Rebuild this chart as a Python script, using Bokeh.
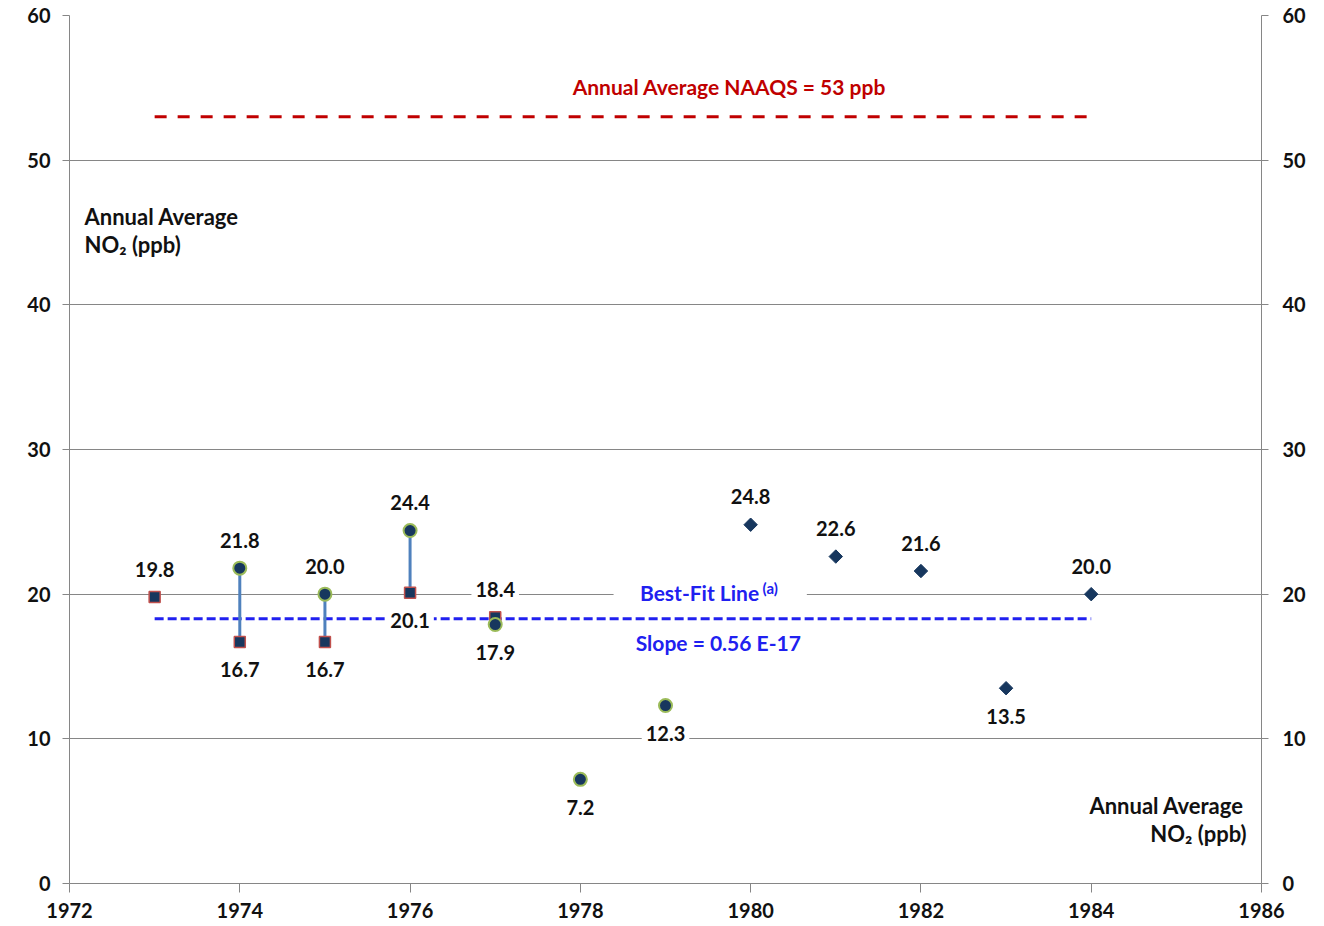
from bokeh.plotting import figure
from bokeh.models import (ColumnDataSource, FixedTicker, LinearAxis, Range1d,
                          Label, BoxAnnotation)
from bokeh.embed import file_html
from bokeh.resources import INLINE
from bokeh.core.properties import value
import math

# ---------------- data ----------------
square_years = [1973, 1974, 1975, 1976, 1977]
square_values = [19.8, 16.7, 16.7, 20.1, 18.4]
square_label_side = ["above", "below", "below", "below", "above"]

circle_years = [1974, 1975, 1976, 1977, 1978, 1979]
circle_values = [21.8, 20.0, 24.4, 17.9, 7.2, 12.3]
circle_label_side = ["above", "above", "above", "below", "below", "below"]

diamond_years = [1980, 1981, 1982, 1983, 1984]
diamond_values = [24.8, 22.6, 21.6, 13.5, 20.0]
diamond_label_side = ["above", "above", "above", "below", "above"]

connector_years = [1974, 1975, 1976]

naaqs_level = 53
best_fit_level = 18.3
line_start_year = 1973
line_end_year = 1984

x_ticks = [1972, 1974, 1976, 1978, 1980, 1982, 1984, 1986]
y_ticks = [0, 10, 20, 30, 40, 50, 60]

# ---------------- style ----------------
FONT = "Lato"
GRAY = "#868686"
NAVY = "#17375E"
TXT = "#111111"
RED = "#C00000"
BLUE = "#2020F0"
LBL_SIZE = "20px"
NOTE_SIZE = "21px"
OFFSET = 28

p = figure(width=1316, height=920,
           x_range=Range1d(1972, 1986), y_range=Range1d(0, 60),
           output_backend="svg", toolbar_location=None,
           min_border_left=69, min_border_right=55,
           min_border_top=15, min_border_bottom=37)
p.outline_line_color = None
p.background_fill_color = "white"
p.border_fill_color = "white"

p.xgrid.grid_line_color = None
p.ygrid.grid_line_color = GRAY
p.ygrid.grid_line_width = 1

right_axis = LinearAxis()
p.add_layout(right_axis, "right")

for ax in [p.xaxis[0], p.yaxis[0], right_axis]:
    ax.axis_line_color = GRAY
    ax.axis_line_width = 1
    ax.major_tick_line_color = GRAY
    ax.major_tick_in = 0
    ax.minor_tick_line_color = None
    ax.major_label_text_font = FONT
    ax.major_label_text_font_style = "bold"
    ax.major_label_text_font_size = LBL_SIZE
    ax.major_label_text_color = TXT

p.xaxis[0].ticker = FixedTicker(ticks=x_ticks)
p.xaxis[0].major_tick_out = 9
p.xaxis[0].major_label_standoff = 10
p.yaxis[0].ticker = FixedTicker(ticks=y_ticks)
p.yaxis[0].major_tick_out = 7
p.yaxis[0].major_label_standoff = 12
right_axis.ticker = FixedTicker(ticks=y_ticks)
right_axis.major_tick_out = 7
right_axis.major_label_standoff = 14

# reference lines
p.line([line_start_year, line_end_year], [naaqs_level, naaqs_level],
       line_color=RED, line_width=3, line_dash="12 11")

# gap in the 20 gridline behind "Best-Fit Line" text
p.add_layout(BoxAnnotation(left=1978.39, right=1980.66, bottom=19.4, top=20.8,
                           fill_color="white", fill_alpha=1, line_color=None,
                           level="underlay"))

p.line([line_start_year, line_end_year], [best_fit_level, best_fit_level],
       line_color=BLUE, line_width=3, line_dash="9 4")

# connectors
conn_low = [square_values[square_years.index(y)] for y in connector_years]
conn_high = [circle_values[circle_years.index(y)] for y in connector_years]
p.segment(x0=connector_years, y0=conn_low, x1=connector_years, y1=conn_high,
          line_color="#4F81BD", line_width=3)

# data labels
def add_labels(xs, ys, sides):
    src = ColumnDataSource(dict(
        x=xs, y=ys,
        t=["%.1f" % v for v in ys],
        off=[-OFFSET if s == "above" else OFFSET for s in sides]))
    p.text(x="x", y="y", text="t", y_offset="off", source=src,
           text_align="center", text_baseline="middle",
           text_font=value(FONT), text_font_style="bold",
           text_font_size=LBL_SIZE, text_color=TXT,
           background_fill_color="white", padding=4)

add_labels(square_years, square_values, square_label_side)
add_labels(circle_years, circle_values, circle_label_side)
add_labels(diamond_years, diamond_values, diamond_label_side)

# markers
p.scatter(square_years, square_values, marker="square", size=11,
          fill_color=NAVY, line_color="#C0504D", line_width=1.5)
p.scatter(circle_years, circle_values, marker="circle", size=13,
          fill_color=NAVY, line_color="#9BBB59", line_width=2)
p.scatter(diamond_years, diamond_values, marker="square", size=9.5,
          angle=math.pi / 4, fill_color=NAVY, line_color=NAVY, line_width=1)

# annotations
def lab(x, y, text, align="left", color=TXT, size=NOTE_SIZE):
    p.add_layout(Label(x=x, y=y, text=text, text_align=align,
                       text_baseline="middle", text_font=FONT,
                       text_font_style="bold", text_font_size=size,
                       text_color=color))

lab(1979.75, 55.09, "Annual Average NAAQS = 53 ppb", align="center", color=RED)
lab(1979.40, 20.1, "Best-Fit Line", align="center", color=BLUE)
lab(1980.14, 20.46, "(a)", align="left", color=BLUE, size="15px")
lab(1979.62, 16.66, "Slope = 0.56 E-17", align="center", color=BLUE)

lab(1972.176, 46.1, "Annual Average", size="22px")
lab(1972.176, 44.17, "NO\u2082 (ppb)", size="22px")
lab(1985.79, 5.39, "Annual Average", align="right", size="22px")
lab(1985.825, 3.46, "NO\u2082 (ppb)", align="right", size="22px")

open("out.html", "w").write(file_html(p, INLINE))
